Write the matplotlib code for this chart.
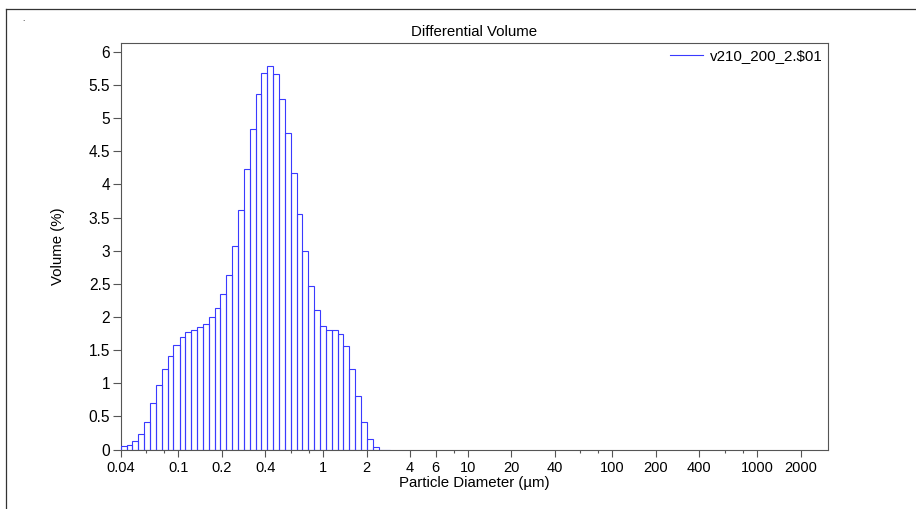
import matplotlib
matplotlib.use("Agg")
import matplotlib.pyplot as plt
import numpy as np
from matplotlib.lines import Line2D

plt.rcParams['font.family'] = ['Liberation Sans', 'DejaVu Sans']

# Channel lower/upper diameters (µm)
channel_edges = [0.0400, 0.0439, 0.0482, 0.0529, 0.0581, 0.0638, 0.0700, 0.0769, 0.0844, 0.0926,
                 0.102, 0.112, 0.122, 0.134, 0.148, 0.162, 0.178, 0.195, 0.214, 0.235,
                 0.258, 0.284, 0.311, 0.342, 0.375, 0.412, 0.452, 0.496, 0.545, 0.598,
                 0.657, 0.721, 0.791, 0.869, 0.954, 1.047, 1.149, 1.261, 1.385, 1.520,
                 1.669, 1.832, 2.011, 2.208, 2.424, 2.661, 2.921]
# Differential volume (%) per channel
volume = [0.05, 0.07, 0.13, 0.236, 0.417, 0.70, 0.975, 1.22, 1.417, 1.573,
          1.693, 1.774, 1.809, 1.842, 1.894, 1.995, 2.13, 2.34, 2.64, 3.07,
          3.62, 4.23, 4.84, 5.36, 5.68, 5.79, 5.66, 5.29, 4.77, 4.18,
          3.56, 2.99, 2.47, 2.10, 1.864, 1.804, 1.804, 1.744, 1.566, 1.218,
          0.806, 0.417, 0.166, 0.04, 0.0, 0.0]

series_name = "v210_200_2.$01"
title = "Differential Volume"
xlabel = "Particle Diameter (µm)"
ylabel = "Volume (%)"

x_major = [0.04, 0.1, 0.2, 0.4, 1, 2, 4, 6, 10, 20, 40, 100, 200, 400, 1000, 2000]
x_major_labels = ["0.04", "0.1", "0.2", "0.4", "1", "2", "4", "6", "10", "20", "40",
                  "100", "200", "400", "1000", "2000"]
x_minor = [0.06, 0.08, 0.6, 0.8, 8, 60, 80, 600, 800]
y_ticks = [0, 0.5, 1, 1.5, 2, 2.5, 3, 3.5, 4, 4.5, 5, 5.5, 6]
y_tick_labels = ["0", "0.5", "1", "1.5", "2", "2.5", "3", "3.5", "4", "4.5", "5", "5.5", "6"]

W, H = 916, 509
fig = plt.figure(figsize=(W / 100, H / 100), dpi=100)
fig.patch.set_facecolor('white')

left, right, top, bottom = 120.7, 828.3, 43.3, 449.5
ax = fig.add_axes([left / W, 1 - bottom / H, (right - left) / W, (bottom - top) / H])

edges = np.array(channel_edges)
bar_color = '#3a3aff'
ax.bar(edges[:-1], volume, width=np.diff(edges), align='edge', fill=False,
       edgecolor=bar_color, linewidth=0.8, zorder=3)

ax.set_xscale('log')
ax.set_xlim(0.04, 3110)
ax.set_ylim(0, 6.13)

spine_color = '#555555'
for s in ax.spines.values():
    s.set_color(spine_color)
    s.set_linewidth(0.8)

ax.set_xticks(x_major)
ax.set_xticklabels(x_major_labels)
ax.set_xticks(x_minor, minor=True)
ax.set_xticklabels([], minor=True)
ax.set_yticks(y_ticks)
ax.set_yticklabels(y_tick_labels)

ax.tick_params(axis='x', which='major', length=5, width=0.8, color=spine_color,
               labelsize=10.5, pad=3)
ax.tick_params(axis='x', which='minor', length=2.5, width=0.8, color=spine_color)
ax.tick_params(axis='y', which='major', length=5.5, width=0.8, color=spine_color,
               labelsize=11.2, pad=2)

ax.set_xlabel(xlabel, fontsize=10.8, va='center')
ax.xaxis.set_label_coords(0.5, -(483 - bottom) / (bottom - top))
ax.set_ylabel(ylabel, fontsize=10.8, va='center')
ax.yaxis.set_label_coords((58 - left) / (right - left), 0.5)

ax.text(0.5, 1 + (top - 32) / (bottom - top), title, transform=ax.transAxes,
        ha='center', va='center', fontsize=10.8)

handle = Line2D([], [], color=bar_color, linewidth=0.8)
ax.legend([handle], [series_name], loc='upper right', frameon=False, fontsize=10.9,
          handlelength=2.2, handletextpad=0.4, borderaxespad=0.0, borderpad=0.4)

# outer frame lines and small dot (decoration)
fig.add_artist(Line2D([6 / W, 1], [1 - 9 / H, 1 - 9 / H], transform=fig.transFigure,
                      color='#333333', linewidth=0.9))
fig.add_artist(Line2D([6 / W, 6 / W], [0, 1 - 9 / H], transform=fig.transFigure,
                      color='#333333', linewidth=0.9))
fig.text(23 / W, 1 - 21 / H, ".", fontsize=6, ha='center', va='baseline')

fig.savefig("out.png", dpi=100)
